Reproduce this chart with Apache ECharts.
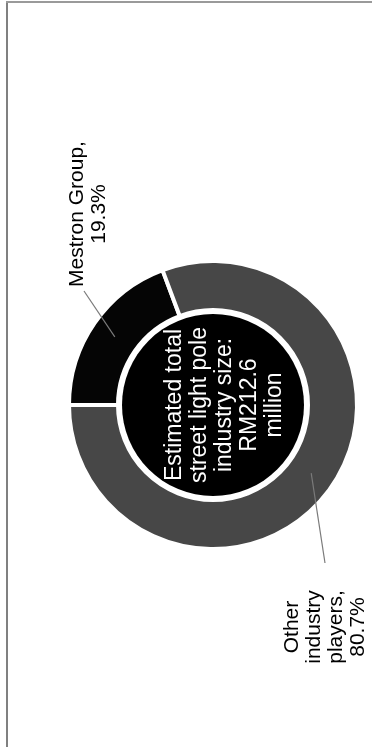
<!DOCTYPE html>
<html>
<head>
<meta charset="utf-8">
<script src="https://cdn.jsdelivr.net/npm/echarts@6/dist/echarts.min.js"></script>
<style>
html,body{margin:0;padding:0;background:#fff;}
#c{width:372px;height:747px;}
</style>
</head>
<body>
<div id="c"></div>
<script>
// ---- data ----
const categories = ['Mestron Group', 'Other industry players'];
const shares = [19.3, 80.7];
const labelTexts = ['Mestron Group,\n19.3%', 'Other\nindustry\nplayers,\n80.7%'];
const centerLines = ['Estimated total', 'street light pole', 'industry size:', 'RM212.6', 'million'];

// ---- layout ----
const CENTER = [213, 405];
const RING = [95, 144];
const DISK = 91;
const START = 180;
const labelPos = [[88, 214], [325, 627]];
const lineEnds = [[84, 291], [325, 563]];
const FONT = "'Liberation Sans', Arial, sans-serif";

const total = shares.reduce((a, b) => a + b, 0);
function anchor(i) {
  const before = shares.slice(0, i).reduce((a, b) => a + b, 0);
  const mid = (before + shares[i] / 2) / total * 360;
  const ang = (START - mid) * Math.PI / 180;
  const r = (RING[0] + RING[1]) / 2;
  return [CENTER[0] + r * Math.cos(ang), CENTER[1] - r * Math.sin(ang)];
}

const leaderLines = categories.map((c, i) => {
  const a = anchor(i);
  return {
    type: 'line', z: 100, silent: true,
    shape: {x1: a[0], y1: a[1], x2: lineEnds[i][0], y2: lineEnds[i][1]},
    style: {stroke: '#7a7a7a', lineWidth: 1.2}
  };
});

const chart = echarts.init(document.getElementById('c'), null, {renderer: 'canvas'});
chart.setOption({
  backgroundColor: '#ffffff',
  animation: false,
  graphic: [
    {type: 'line', shape: {x1: 7, y1: 1, x2: 7, y2: 747}, style: {stroke: '#808080', lineWidth: 2}, silent: true},
    {type: 'line', shape: {x1: 6, y1: 2, x2: 372, y2: 2}, style: {stroke: '#9a9a9a', lineWidth: 2}, silent: true}
  ].concat(leaderLines),
  series: [
    {
      type: 'pie',
      silent: true,
      center: CENTER,
      radius: RING,
      startAngle: START,
      clockwise: true,
      avoidLabelOverlap: false,
      itemStyle: {borderColor: '#ffffff', borderWidth: 4},
      label: {
        show: true,
        position: 'outside',
        color: '#000',
        fontFamily: FONT,
        fontSize: 21,
        lineHeight: 22,
        formatter: p => labelTexts[p.dataIndex]
      },
      labelLine: {show: false},
      labelLayout: function (p) {
        const i = p.dataIndex;
        return {
          x: labelPos[i][0], y: labelPos[i][1], rotate: 90,
          align: 'center', verticalAlign: 'middle'
        };
      },
      data: categories.map((c, i) => ({
        name: c, value: shares[i],
        itemStyle: {color: i === 0 ? '#050505' : '#474747'}
      }))
    },
    {
      type: 'pie',
      silent: true,
      center: CENTER,
      radius: [0, DISK],
      label: {
        show: true,
        position: 'center',
        color: '#ffffff',
        fontFamily: FONT,
        fontSize: 23,
        lineHeight: 25,
        formatter: () => centerLines.join('\n')
      },
      labelLine: {show: false},
      labelLayout: function () {
        return {x: 225, y: 405, rotate: 90, align: 'center', verticalAlign: 'middle'};
      },
      itemStyle: {color: '#000000'},
      data: [{name: 'Estimated total street light pole industry size', value: 212.6}]
    }
  ]
});
</script>
</body>
</html>
